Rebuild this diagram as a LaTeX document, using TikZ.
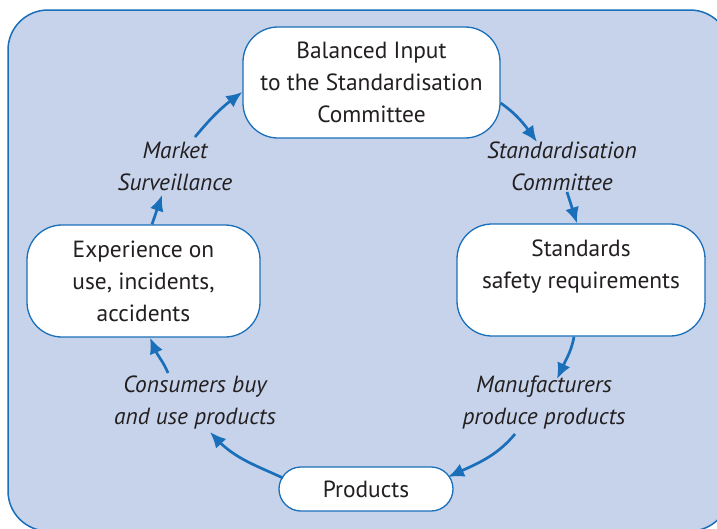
\documentclass[tikz,border=0pt]{standalone}
\usepackage{fontspec}
\setmainfont{PT Sans}
\usetikzlibrary{arrows.meta,bending}
\definecolor{bgfill}{HTML}{C6D3EA}
\definecolor{edge}{HTML}{1A6FBA}
\definecolor{txt}{HTML}{231F20}
\tikzset{
  box/.style={draw=edge, fill=white, line width=1.3pt, rounded corners=35pt, align=center, text=txt,
    font=\fontsize{23.4}{32}\selectfont, inner sep=0pt},
  lbl/.style={text=txt, font=\fontsize{23.4}{32}\selectfont\itshape, align=center, inner sep=0pt},
  arr/.style={draw=edge, line width=2.7pt, -{Latex[length=16pt,width=14pt,flex]}}
}
\begin{document}
\begin{tikzpicture}[x=1pt,y=1pt]
\useasboundingbox (0,0) rectangle (717,-528);
\begin{scope}
\clip (0,0) rectangle (717,-528);
\draw[fill=bgfill, draw=edge, line width=1.5pt, rounded corners=40pt] (8,-10) rectangle (730,-531);
\end{scope}

\node[box, minimum width=257pt, minimum height=111pt] (top) at (371.5,-82.5)
  {Balanced Input\\to the Standardisation\\Committee};
\node[box, minimum width=248pt, minimum height=112pt] (right) at (581,-280)
  {Standards\\safety requirements\\\mbox{}};
\node[box, minimum width=233pt, minimum height=112pt] (left) at (143.5,-281)
  {Experience on\\use, incidents,\\accidents};
\node[box, rounded corners=22pt, minimum width=174pt, minimum height=44pt] (prod) at (366,-489)
  {Products};

\node[lbl] (ms) at (175,-166) {Market\\Surveillance};
\node[lbl] (sc) at (562,-166) {Standardisation\\Committee};
\node[lbl] (mp) at (544,-403) {Manufacturers\\produce products};
\node[lbl] (cb) at (195,-403) {Consumers buy\\and use products};

\draw[arr] ([xshift=8.5pt]left.north) -- ([xshift=-13pt,yshift=-29pt]ms.center);
\draw[arr] ([xshift=20pt,yshift=29pt]ms.center) to[out=50,in=215] ([yshift=-9.5pt]top.west);
\draw[arr] ([yshift=-20.5pt]top.east) to[out=-35,in=125] ([xshift=-25pt,yshift=24pt]sc.center);
\draw[arr] ([xshift=5pt,yshift=-26pt]sc.center) -- ([xshift=-4pt]right.north);
\draw[arr] ([xshift=-7pt]right.south) to[out=-100,in=68] ([xshift=13pt,yshift=24pt]mp.center);
\draw[arr] ([xshift=-29pt,yshift=-31pt]mp.center) to[out=-130,in=25] ([xshift=82pt,yshift=12pt]prod.center);
\draw[arr] ([xshift=-83pt,yshift=11pt]prod.center) to[out=155,in=-50] ([xshift=15pt,yshift=-29pt]cb.center);
\draw[arr] ([xshift=-27pt,yshift=30pt]cb.center) to[out=112,in=-75] ([xshift=6.5pt]left.south);
\end{tikzpicture}
\end{document}
